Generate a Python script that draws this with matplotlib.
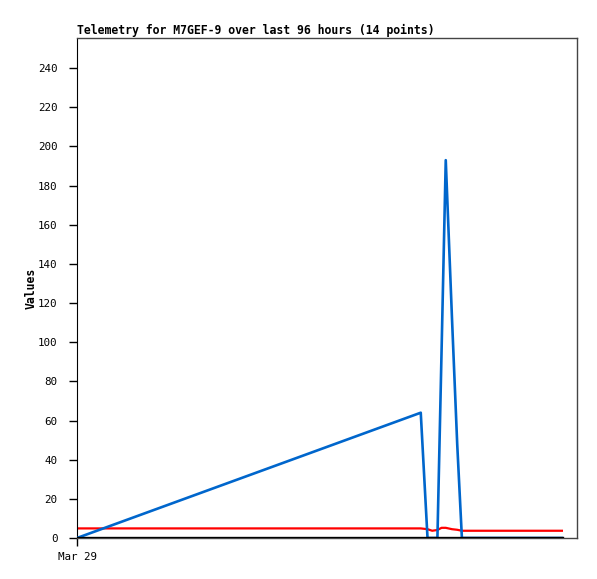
import matplotlib
matplotlib.use("Agg")
import matplotlib.pyplot as plt
import numpy as np

# hours since start (Mar 29 00:00)
hours = [0, 66.0, 67.3, 68.2, 69.2, 70.0, 70.8, 72.0, 73.0, 73.9, 80.0, 85.0, 89.0, 93.1]
blue_vals = [0, 64, 0, 0, 0, 96, 193, 112, 48, 0, 0, 0, 0, 0]
red_vals = [4.9, 4.9, 4.5, 3.7, 4.1, 5.2, 5.2, 4.5, 4.2, 3.7, 3.7, 3.7, 3.7, 3.7]
black_vals = [0, 0, 0, 0, 0, 0, 0, 0, 0, 0, 0, 0, 0, 0]
yticks = list(range(0, 241, 20))
xtick_labels = ["Mar 29"]
title = "Telemetry for M7GEF-9 over last 96 hours (14 points)"

fig = plt.figure(figsize=(5.97, 5.79), dpi=100)
ax = fig.add_axes([77/597, 1-538/579, 500/597, 500/579])

ax.plot(hours, red_vals, color="#ff0000", lw=1.6, zorder=2)
ax.plot(hours, blue_vals, color="#0066cc", lw=1.9, zorder=3)
ax.plot(hours, black_vals, color="#000000", lw=2.4, zorder=4)

ax.set_xlim(0, 96)
ax.set_ylim(0, 255.4)
ax.set_yticks(yticks)
ax.set_xticks([0])
ax.set_xticklabels(xtick_labels)

mono = "DejaVu Sans Mono"
for lab in ax.get_yticklabels() + ax.get_xticklabels():
    lab.set_fontfamily(mono)
    lab.set_fontsize(7.8)
ax.tick_params(axis="y", direction="out", length=6, width=1, pad=8, colors="black")
ax.tick_params(axis="x", direction="out", length=6, width=1, pad=4, colors="black")

for side in ["top", "right", "bottom"]:
    ax.spines[side].set_color("#444444")
    ax.spines[side].set_linewidth(1)
ax.spines["left"].set_color("black")

ax.set_ylabel("Values", fontfamily=mono, fontweight="bold", fontsize=8.3, labelpad=0)
ax.set_title(title, loc="left", fontfamily=mono, fontweight="bold", fontsize=8.3, pad=3)

fig.savefig("out.png", dpi=100)
